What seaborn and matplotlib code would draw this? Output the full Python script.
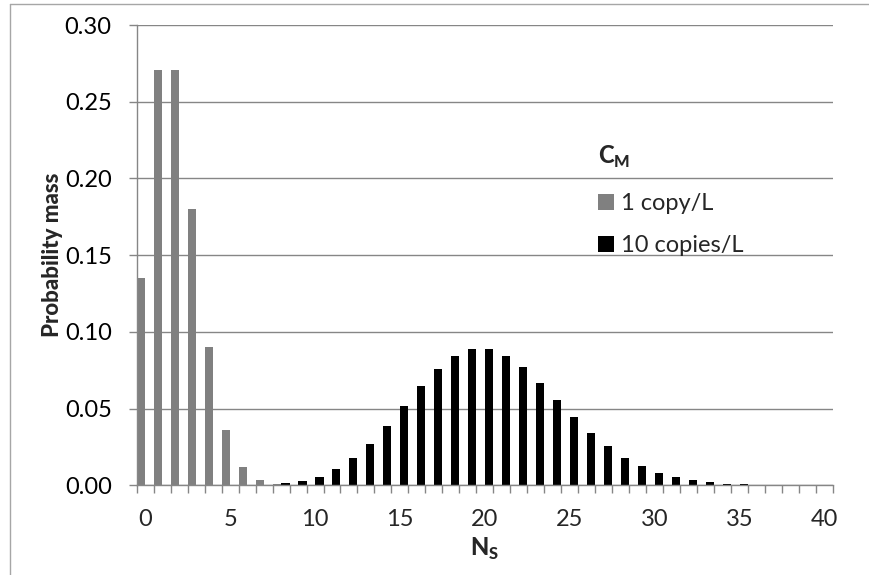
import numpy as np
import pandas as pd
import matplotlib
matplotlib.use("Agg")
import matplotlib.pyplot as plt
from matplotlib.lines import Line2D
import seaborn as sns

# number of samples N_S (categories on the x axis)
n_s = list(range(41))

# probability mass, C_M = 1 copy/L
mass_1 = [0.1353, 0.2707, 0.2707, 0.1804, 0.0902, 0.0361, 0.0120, 0.0034, 0.0009,
          0.0002, 0.00004] + [0.0] * 30

# probability mass, C_M = 10 copies/L
mass_10 = [0.0, 0.0, 0.0, 0.0, 0.00001, 0.00005, 0.0002, 0.0005, 0.0013, 0.0029,
           0.0058, 0.0106, 0.0176, 0.0271, 0.0387, 0.0516, 0.0646, 0.0760, 0.0844,
           0.0888, 0.0888, 0.0846, 0.0769, 0.0669, 0.0557, 0.0446, 0.0343, 0.0254,
           0.0181, 0.0125, 0.0083, 0.0054, 0.0034, 0.0020, 0.0012, 0.0007, 0.0004,
           0.0002, 0.0001, 0.00005, 0.00003]

series = ["1 copy/L", "10 copies/L"]
colors = {"1 copy/L": "#808080", "10 copies/L": "#000000"}

df = pd.DataFrame({
    "N_S": n_s * 2,
    "C_M": [series[0]] * len(n_s) + [series[1]] * len(n_s),
    "mass": mass_1 + mass_10,
})

sns.set_style("white")
plt.rcParams["font.family"] = ["Lato", "DejaVu Sans"]
plt.rcParams["mathtext.fontset"] = "custom"
plt.rcParams["mathtext.rm"] = "Lato"
plt.rcParams["mathtext.bf"] = "Lato:black"

grid_c = "#868686"

fig = plt.figure(figsize=(8.69, 5.75), dpi=100)
ax = fig.add_axes([0.1573, 0.1557, 0.8013, 0.8008])

sns.barplot(data=df, x="N_S", y="mass", hue="C_M", hue_order=series,
            palette=colors, width=1, gap=0, saturation=1, linewidth=0,
            ax=ax)

ax.set_xlim(-0.5, 40.5)
ax.set_ylim(0, 0.30)
yt = np.arange(0, 0.301, 0.05)
ax.set_yticks(yt)
ax.set_yticklabels([f"{v:.2f}" for v in yt])
ax.set_xticks(range(0, 41, 5))
ax.set_xticklabels([str(v) for v in range(0, 41, 5)])
ax.set_xticks(np.arange(-0.5, 41, 1), minor=True)

ax.yaxis.grid(True, color=grid_c, lw=1)
ax.set_axisbelow(True)
for s in ["top", "right"]:
    ax.spines[s].set_visible(False)
for s in ["left", "bottom"]:
    ax.spines[s].set_color(grid_c)
    ax.spines[s].set_linewidth(1)

ax.tick_params(axis="y", direction="out", length=6, width=1, color=grid_c,
               pad=12, labelsize=17, labelcolor="black", left=True)
ax.tick_params(axis="x", which="major", length=0, pad=17, labelsize=17,
               bottom=True)
ax.tick_params(axis="x", which="minor", direction="out", length=6, width=1,
               color=grid_c, bottom=True)

ax.set_ylabel("Probability mass", fontsize=16, fontweight="black", labelpad=1)
ax.set_xlabel(r"$\mathbf{N}_\mathbf{S}$", fontsize=17, labelpad=4)

handles, labels = ax.get_legend_handles_labels()
ax.legend(handles, labels, loc="upper left", bbox_to_anchor=(0.688, 0.664),
          bbox_transform=fig.transFigure,
          frameon=False, fontsize=17,
          handlelength=0.68, handleheight=0.68, handletextpad=0.32,
          labelspacing=0.88, borderpad=0, borderaxespad=0)
# legend title placed on its own, as in the reference
fig.text(598 / 869, 1 - 157 / 575, r"$\mathbf{C}_\mathbf{M}$", fontsize=17,
         ha="left", va="center")

# outer chart border (left and top edges visible)
fig.add_artist(Line2D([10 / 869, 10 / 869], [0, 1 - 4 / 575], color="#a6a6a6", lw=1))
fig.add_artist(Line2D([10 / 869, 1], [1 - 4 / 575, 1 - 4 / 575], color="#a6a6a6", lw=1))

fig.savefig("out.png", dpi=100)
